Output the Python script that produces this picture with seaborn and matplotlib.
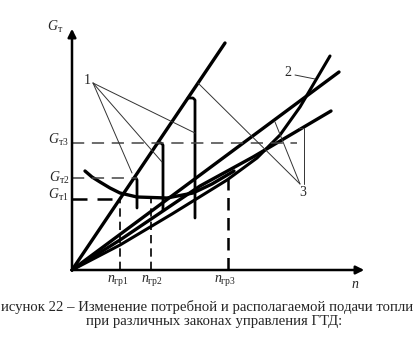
import numpy as np
import pandas as pd
import matplotlib
matplotlib.use("Agg")
import matplotlib.pyplot as plt
import seaborn as sns

sns.set_theme(style="white")
plt.rcParams['font.family'] = ['Liberation Serif', 'DejaVu Serif']
plt.rcParams['mathtext.fontset'] = 'custom'
plt.rcParams['mathtext.rm'] = 'Liberation Serif'
plt.rcParams['mathtext.it'] = 'Liberation Serif:italic'

# ---- data (schematic units) ----
steep_n = [0, 153]
steep_G = [0, 227]

mid_n = [0, 267]
mid_G = [0, 198]

low_n = [0, 48, 128, 181, 259]
low_G = [0, 30, 84, 113, 159]

curve2_n = [0, 48, 100, 155, 185, 208, 228, 258]
curve2_G = [0, 25, 56, 90, 112, 135, 163, 214]

need_n = [13, 20, 28, 38, 48, 65, 95, 121, 140, 162]
need_G = [99, 93, 88, 82, 77, 73, 72, 77, 86, 99]

step1_n = [62, 64, 65, 65]
step1_G = [92, 92, 90, 62]
step2_n = [86, 89, 91, 91]
step2_G = [127, 127, 125, 60]
step3_n = [116, 121, 123, 123]
step3_G = [172, 172, 170, 52]

G_levels = [71, 92, 127]          # Gт1, Gт2, Gт3
G_level_ends = [48, 65, 225]
n_levels = [48, 79, 156]          # nгр1, nгр2, nгр3
n_level_tops = [71, 71, 98]

G_labels = [r'$G_{\mathrm{т1}}$', r'$G_{\mathrm{т2}}$', r'$G_{\mathrm{т3}}$']
n_labels = [r'$n_{\mathrm{гр1}}$', r'$n_{\mathrm{гр2}}$', r'$n_{\mathrm{гр3}}$']

caption1 = "исунок 22 – Изменение потребной и располагаемой подачи топли"
caption2 = "при различных законах управления ГТД:"

# ---- figure ----
fig = plt.figure(figsize=(4.17, 3.51), dpi=100)
ax = fig.add_axes([0, 0, 1, 1])
ax.set_xlim(-72, 345)
ax.set_ylim(-81, 270)
ax.axis('off')

def line(n, G, lw, ls='-'):
    sns.lineplot(x=n, y=G, ax=ax, color='black', lw=lw, linestyle=ls,
                 sort=False, estimator=None, legend=False)

# thick characteristic lines
line(steep_n, steep_G, 2.4)
line(mid_n, mid_G, 2.4)
line(low_n, low_G, 2.4)
line(curve2_n, curve2_G, 2.2)
line(need_n, need_G, 2.4)
for sn, sg in [(step1_n, step1_G), (step2_n, step2_G), (step3_n, step3_G)]:
    line(sn, sg, 2.0)

# dashed reference lines
for i, (g, e) in enumerate(zip(G_levels, G_level_ends)):
    lw = 1.8 if i == 0 else 1.1
    ax.plot([0, e], [g, g], color='black' if i == 0 else '#444444', lw=lw,
            dashes=(6, 4) if i == 0 else (8, 5))
for i, (nv, t) in enumerate(zip(n_levels, n_level_tops)):
    lw = 1.8 if i == 2 else 1.2
    ax.plot([nv, nv], [0, t], color='black', lw=lw, dashes=(5, 3))

# leader lines
thin = dict(color='#333333', lw=0.7)
for tgt in [(123, 137), (90, 108), (60, 97)]:
    ax.plot([21, tgt[0]], [187, tgt[1]], **thin)
ax.plot([223, 243], [195, 191], **thin)
for tgt in [(126, 187), (203, 148)]:
    ax.plot([228, tgt[0]], [86, tgt[1]], **thin)
ax.plot([232, 232, 226], [86, 142, 142], **thin)

# axes with arrows
ax.annotate('', xy=(0, 244), xytext=(0, -1),
            arrowprops=dict(arrowstyle='-|>', lw=1.8, color='black', mutation_scale=12))
ax.annotate('', xy=(295, 0), xytext=(-1, 0),
            arrowprops=dict(arrowstyle='-|>', lw=1.8, color='black', mutation_scale=12))

# labels
fs = 10
ax.text(-17, 243, r'$G_{\mathrm{т}}$', fontsize=fs, ha='center', va='center')
for lab, y in zip(G_labels, [75, 92, 130]):
    ax.text(-3, y, lab, fontsize=fs, ha='right', va='center')
for lab, x in zip(n_labels, [46, 80, 153]):
    ax.text(x, -10, lab, fontsize=fs, ha='center', va='center')
ax.text(283, -15, r'$n$', fontsize=fs, ha='center', va='center')
ax.text(15, 189, '1', fontsize=fs, ha='center', va='center')
ax.text(216, 197, '2', fontsize=fs, ha='center', va='center')
ax.text(231, 77, '3', fontsize=fs, ha='center', va='center')

ax.text(-71, 270 - 307, caption1, fontsize=10.6, ha='left', va='center')
ax.text(214 - 72, 270 - 322, caption2, fontsize=10.6, ha='center', va='center')

fig.savefig('out.png', dpi=100)
